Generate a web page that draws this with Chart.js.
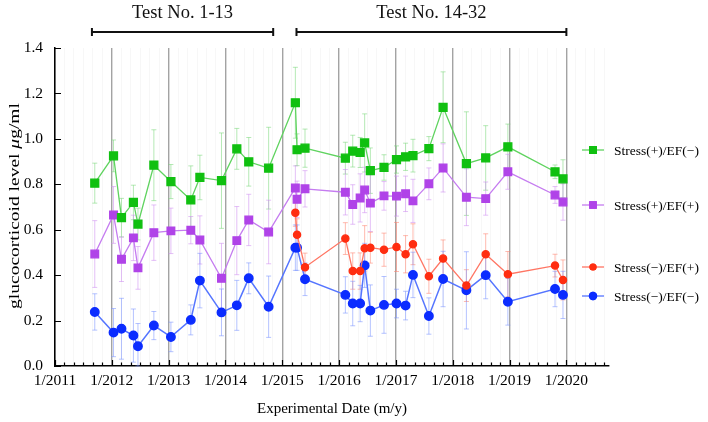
<!DOCTYPE html>
<html lang="en">
<head>
<meta charset="UTF-8">
<title>Glucocorticoid level</title>
<script src="https://cdn.jsdelivr.net/npm/chart.js@4.4.1/dist/chart.umd.min.js"></script>
<style>
  html, body { margin: 0; padding: 0; background: #fff; }
</style>
</head>
<body>
<canvas id="myChart" width="708" height="422"></canvas>

<script type="text/javascript">
    // experimental dates as decimal years, test no. 1-32
    var dates = [2011.70, 2012.03, 2012.17, 2012.38, 2012.46, 2012.74, 2013.04, 2013.39, 2013.55, 2013.93, 2014.20, 2014.41, 2014.76,
        2015.23, 2015.26, 2015.40, 2016.11, 2016.24, 2016.37, 2016.45, 2016.55, 2016.79, 2017.01, 2017.17, 2017.30, 2017.58,
        2017.83, 2018.24, 2018.58, 2018.97, 2019.80, 2019.94];
    // Stress(-) / EF(+) only exists for test no. 14-32
    var redDates = dates.slice(13);

    var greenVal = [0.805, 0.925, 0.653, 0.720, 0.625, 0.884, 0.812, 0.731, 0.830, 0.816, 0.956, 0.899, 0.871,
        1.159, 0.952, 0.959, 0.915, 0.946, 0.940, 0.982, 0.860, 0.874, 0.909, 0.921, 0.926, 0.957, 1.139, 0.891, 0.916, 0.965, 0.855, 0.824];
    var greenErr = [0.088, 0.070, 0.085, 0.076, 0.070, 0.156, 0.075, 0.150, 0.098, 0.210, 0.090, 0.107, 0.180,
        0.156, 0.070, 0.084, 0.070, 0.070, 0.066, 0.128, 0.100, 0.056, 0.060, 0.060, 0.072, 0.053, 0.156, 0.228, 0.142, 0.100, 0.030, 0.084];

    var purpleVal = [0.493, 0.665, 0.470, 0.564, 0.432, 0.587, 0.595, 0.598, 0.555, 0.386, 0.552, 0.643, 0.590,
        0.784, 0.734, 0.780, 0.765, 0.711, 0.740, 0.775, 0.717, 0.749, 0.748, 0.758, 0.727, 0.802, 0.872, 0.743, 0.737, 0.855, 0.753, 0.722];
    var purpleErr = [0.147, 0.125, 0.098, 0.100, 0.094, 0.122, 0.100, 0.060, 0.106, 0.154, 0.150, 0.113, 0.140,
        0.097, 0.080, 0.080, 0.100, 0.087, 0.106, 0.100, 0.125, 0.063, 0.088, 0.078, 0.095, 0.070, 0.106, 0.125, 0.073, 0.077, 0.037, 0.080];

    var redVal = [0.675, 0.578, 0.435, 0.561, 0.418, 0.418, 0.518, 0.521, 0.512, 0.524, 0.492, 0.536, 0.395, 0.473,
        0.354, 0.492, 0.404, 0.442, 0.379];
    var redErr = [0.060, 0.070, 0.062, 0.070, 0.080, 0.080, 0.100, 0.068, 0.073, 0.108, 0.082, 0.090, 0.075, 0.082,
        0.070, 0.090, 0.100, 0.050, 0.088];

    var blueVal = [0.238, 0.147, 0.164, 0.134, 0.087, 0.178, 0.128, 0.203, 0.376, 0.236, 0.267, 0.386, 0.261,
        0.521, 0.521, 0.382, 0.313, 0.275, 0.275, 0.443, 0.244, 0.269, 0.275, 0.266, 0.401, 0.220, 0.383, 0.333, 0.400, 0.283, 0.339, 0.313];
    var blueErr = [0.080, 0.106, 0.134, 0.117, 0.100, 0.062, 0.065, 0.066, 0.120, 0.103, 0.110, 0.068, 0.135,
        0.100, 0.100, 0.072, 0.080, 0.098, 0.080, 0.097, 0.113, 0.125, 0.063, 0.063, 0.100, 0.080, 0.122, 0.170, 0.104, 0.103, 0.078, 0.104];

    var seriesNames = ["Stress(+)/EF(\u2212)", "Stress(+)/EF(+)", "Stress(\u2212)/EF(+)", "Stress(\u2212)/EF(\u2212)"];

    // x axis: years with labels "1/yyyy", 6 minor ticks per year
    var years = [2011, 2012, 2013, 2014, 2015, 2016, 2017, 2018, 2019, 2020];
    var yearLabels = ["1/2011", "1/2012", "1/2013", "1/2014", "1/2015", "1/2016", "1/2017", "1/2018", "1/2019", "1/2020"];
    var xMin = 2011, xMax = 2020.75;

    // test groups shown above the plot
    var groupNames = ["Test No. 1-13", "Test No. 14-32"];
    var groupFrom = [2011.65, 2015.25];
    var groupTo = [2014.84, 2020.0];

    // y title, the unit prefix is set in italics
    var yTitleParts = ["glucocorticoid level ", "\u03bc", "g/ml"];

    var serif = "'Liberation Serif', 'Times New Roman', serif";
    Chart.defaults.font.family = serif;
    Chart.defaults.color = "#000";

    function pts(xs, ys) {
        return ys.map(function (v, i) { return {x: xs[i], y: v}; });
    }

    function isYear(v) {
        return Math.abs(v - Math.round(v)) < 1e-6;
    }

    var datasets = [{
        label: seriesNames[0], data: pts(dates, greenVal), err: greenErr,
        borderColor: "#5fd35f", borderWidth: 1.3, errColor: "rgba(120,215,120,0.55)",
        pointStyle: "rect", pointRadius: 5.6, pointBackgroundColor: "#10c010", pointBorderColor: "#10c010"
    }, {
        label: seriesNames[1], data: pts(dates, purpleVal), err: purpleErr,
        borderColor: "#c57cf0", borderWidth: 1.3, errColor: "rgba(205,140,240,0.55)",
        pointStyle: "rect", pointRadius: 5.4, pointBackgroundColor: "#b043e8", pointBorderColor: "#b043e8"
    }, {
        label: seriesNames[2], data: pts(redDates, redVal), err: redErr,
        borderColor: "#ff7563", borderWidth: 1.3, errColor: "rgba(255,130,110,0.55)",
        pointStyle: "circle", pointRadius: 3.6, pointBackgroundColor: "#ff2d10", pointBorderColor: "#ff2d10"
    }, {
        label: seriesNames[3], data: pts(dates, blueVal), err: blueErr,
        borderColor: "#5575ff", borderWidth: 1.5, errColor: "rgba(120,145,255,0.55)",
        pointStyle: "circle", pointRadius: 4.2, pointBackgroundColor: "#0b2cff", pointBorderColor: "#0b2cff"
    }];

    var errorBars = {
        id: "errorBars",
        beforeDatasetsDraw: function (chart) {
            var ctx = chart.ctx, xs = chart.scales.x, ys = chart.scales.y;
            ctx.save();
            chart.data.datasets.forEach(function (ds) {
                ctx.strokeStyle = ds.errColor;
                ctx.lineWidth = 1;
                ds.data.forEach(function (p, i) {
                    var px = xs.getPixelForValue(p.x);
                    var top = ys.getPixelForValue(p.y + ds.err[i]);
                    var bot = ys.getPixelForValue(Math.max(0, p.y - ds.err[i]));
                    ctx.beginPath();
                    ctx.moveTo(px, top); ctx.lineTo(px, bot);
                    ctx.moveTo(px - 2.5, top); ctx.lineTo(px + 2.5, top);
                    ctx.moveTo(px - 2.5, bot); ctx.lineTo(px + 2.5, bot);
                    ctx.stroke();
                });
            });
            ctx.restore();
        }
    };

    var inwardTicks = {
        id: "inwardTicks",
        afterDatasetsDraw: function (chart) {
            var ctx = chart.ctx, xs = chart.scales.x, ys = chart.scales.y, a = chart.chartArea;
            ctx.save();
            ctx.strokeStyle = "#000";
            ctx.lineWidth = 1.2;
            ctx.beginPath();
            xs.ticks.forEach(function (t) {
                var px = Math.round(xs.getPixelForValue(t.value)) + 0.5;
                var len = isYear(t.value) ? 6 : 3.5;
                ctx.moveTo(px, a.bottom); ctx.lineTo(px, a.bottom - len);
            });
            ys.ticks.forEach(function (t) {
                var py = Math.round(ys.getPixelForValue(t.value)) + 0.5;
                ctx.moveTo(a.left, py); ctx.lineTo(a.left + 6, py);
            });
            ctx.stroke();
            ctx.restore();
        }
    };

    var annotations = {
        id: "annotations",
        afterDraw: function (chart) {
            var ctx = chart.ctx, xs = chart.scales.x, a = chart.chartArea;
            ctx.save();
            // test group brackets
            ctx.strokeStyle = "#111";
            ctx.fillStyle = "#111";
            ctx.lineWidth = 2;
            ctx.textAlign = "center";
            ctx.textBaseline = "middle";
            ctx.font = "18.5px " + serif;
            for (var g = 0; g < groupNames.length; g++) {
                var x1 = xs.getPixelForValue(groupFrom[g]);
                var x2 = xs.getPixelForValue(groupTo[g]);
                var by = 32;
                ctx.beginPath();
                ctx.moveTo(x1, by); ctx.lineTo(x2, by);
                ctx.moveTo(x1, by - 4); ctx.lineTo(x1, by + 4);
                ctx.moveTo(x2, by - 4); ctx.lineTo(x2, by + 4);
                ctx.stroke();
                ctx.fillText(groupNames[g], (x1 + x2) / 2, 13);
            }

            // y axis title (stretched along the text like the original)
            ctx.save();
            ctx.fillStyle = "#000";
            ctx.textAlign = "left";
            ctx.translate(15, (a.top + a.bottom) / 2 - 1);
            ctx.rotate(-Math.PI / 2);
            ctx.scale(1.3, 1);
            var fonts = ["15px " + serif, "italic 15px " + serif, "15px " + serif];
            var total = 0, w = [];
            for (var p = 0; p < yTitleParts.length; p++) {
                ctx.font = fonts[p];
                w[p] = ctx.measureText(yTitleParts[p]).width;
                total += w[p];
            }
            var tx = -total / 2;
            for (p = 0; p < yTitleParts.length; p++) {
                ctx.font = fonts[p];
                ctx.fillText(yTitleParts[p], tx, 0);
                tx += w[p];
            }
            ctx.restore();

            // legend at the right
            var legendY = [150, 205, 267, 296];
            var lx = 593;
            ctx.font = "13.5px " + serif;
            ctx.textAlign = "left";
            chart.data.datasets.forEach(function (ds, i) {
                var y = legendY[i];
                ctx.strokeStyle = ds.borderColor;
                ctx.lineWidth = 1.3;
                ctx.beginPath();
                ctx.moveTo(lx - 11, y); ctx.lineTo(lx + 11, y);
                ctx.stroke();
                ctx.fillStyle = ds.pointBackgroundColor;
                Chart.helpers.drawPoint(ctx, {pointStyle: ds.pointStyle, radius: ds.pointRadius, rotation: 0, borderWidth: 0}, lx, y);
                ctx.fill();
                ctx.fillStyle = "#000";
                ctx.fillText(ds.label, 614, y + 1);
            });
            ctx.restore();
        }
    };

    new Chart(document.getElementById("myChart"), {
        type: "line",
        data: {datasets: datasets},
        options: {
            responsive: false,
            animation: false,
            devicePixelRatio: 1,
            layout: {padding: {top: 48, right: 99, left: 0, bottom: 0}},
            elements: {line: {tension: 0}},
            plugins: {legend: {display: false}, tooltip: {enabled: false}},
            scales: {
                x: {
                    type: "linear",
                    min: xMin,
                    max: xMax,
                    afterBuildTicks: function (scale) {
                        var ticks = [];
                        for (var k = 0; k <= 58; k++) {
                            ticks.push({value: Math.round((xMin + k / 6) * 1e6) / 1e6});
                        }
                        scale.ticks = ticks;
                    },
                    afterFit: function (scale) { scale.height = 56; },
                    ticks: {
                        autoSkip: false,
                        maxRotation: 0,
                        minRotation: 0,
                        padding: 6,
                        font: {size: 15.5},
                        callback: function (v) {
                            var i = years.indexOf(Math.round(v));
                            return isYear(v) && i >= 0 ? yearLabels[i] : "";
                        }
                    },
                    grid: {
                        drawTicks: false,
                        color: function (c) { return c.tick && isYear(c.tick.value) ? "#a3a3a3" : "#f7f7f7"; },
                        lineWidth: function (c) { return c.tick && isYear(c.tick.value) ? 1.4 : 1; }
                    },
                    border: {display: true, color: "#000", width: 1.5},
                    title: {
                        display: true,
                        text: "Experimental Date (m/y)",
                        font: {size: 15},
                        padding: {top: 0, bottom: 4}
                    }
                },
                y: {
                    min: 0,
                    max: 1.4,
                    afterFit: function (scale) { scale.width = 55; },
                    ticks: {
                        stepSize: 0.2,
                        padding: 12,
                        font: {size: 15.5},
                        callback: function (v) { return v.toFixed(1); }
                    },
                    grid: {display: false, drawTicks: false},
                    border: {display: true, color: "#000", width: 1.5},
                    title: {display: false}
                }
            }
        },
        plugins: [errorBars, inwardTicks, annotations]
    });
</script>

</body>
</html>
